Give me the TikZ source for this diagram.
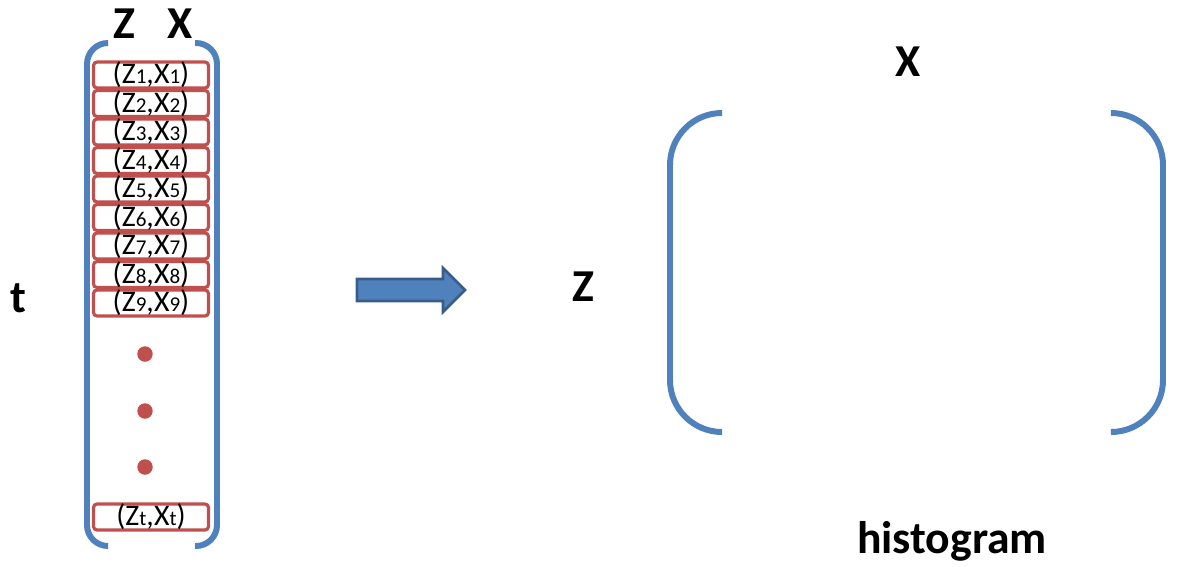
\documentclass[tikz,border=0pt]{standalone}
\usepackage{fontspec}
\setmainfont{Carlito}
\newfontfamily\rowfont{Carlito}
\usetikzlibrary{positioning}

\definecolor{brblue}{HTML}{4F81BD}
\definecolor{ardark}{HTML}{385D8A}
\definecolor{rowred}{HTML}{C0504D}

\newcommand{\idx}[1]{{\fontsize{12}{12}\selectfont #1}}

\begin{document}
\begin{tikzpicture}[
    x=0.02cm, y=-0.02cm,
    label/.style={font=\fontsize{26}{28}\selectfont\bfseries, inner sep=0pt},
    rowbox/.style={draw=rowred, line width=1.8pt, rounded corners=2pt, fill=white,
        minimum width=2.3cm, minimum height=0.5cm, inner sep=0pt,
        font=\rowfont\fontsize{17}{17}\selectfont},
    dotnode/.style={circle, fill=rowred, minimum size=0.31cm, inner sep=0pt},
    bracket/.style={draw=brblue, line width=3.4pt},
    bigarrow/.style={fill=brblue, draw=ardark, line width=1.5pt, line join=miter}
]
\useasboundingbox (0,0) rectangle (1187,566);

% list of pairs
\draw[bracket, rounded corners=0.42cm] (108,43) -- (87,43) -- (87,546) -- (108,546);
\draw[bracket, rounded corners=0.42cm] (195,43) -- (217,43) -- (217,546) -- (195,546);

\node[label] (zcol) at (124,24) {Z};
\node[label] (xcol) at (180,24) {X};
\node[label] (tlab) at (18,298) {t};

\foreach \i in {1,...,9}
    \node[rowbox] (r\i) at (151,{75+(\i-1)*28.5}) {(Z\idx{\i},X\idx{\i})};

\node[dotnode] (d1) at (145,354) {};
\node[dotnode] (d2) at (145,411) {};
\node[dotnode] (d3) at (145,467) {};

\node[rowbox] (rt) at (151,517) {(Z\idx{t},X\idx{t})};

% arrow
\draw[bigarrow] (357,279) -- (443,279) -- (443,268) -- (465,290)
    -- (443,312) -- (443,301) -- (357,301) -- cycle;

% histogram matrix
\draw[bracket, rounded corners=1.04cm] (722,113) -- (670,113) -- (670,432) -- (722,432);
\draw[bracket, rounded corners=1.04cm] (1112,113) -- (1163,113) -- (1163,432) -- (1112,432);

\node[label] (xhist) at (908,62) {X};
\node[label] (zhist) at (583,287) {Z};
\node[label] (hist) at (952,541) {histogram};

\end{tikzpicture}
\end{document}
